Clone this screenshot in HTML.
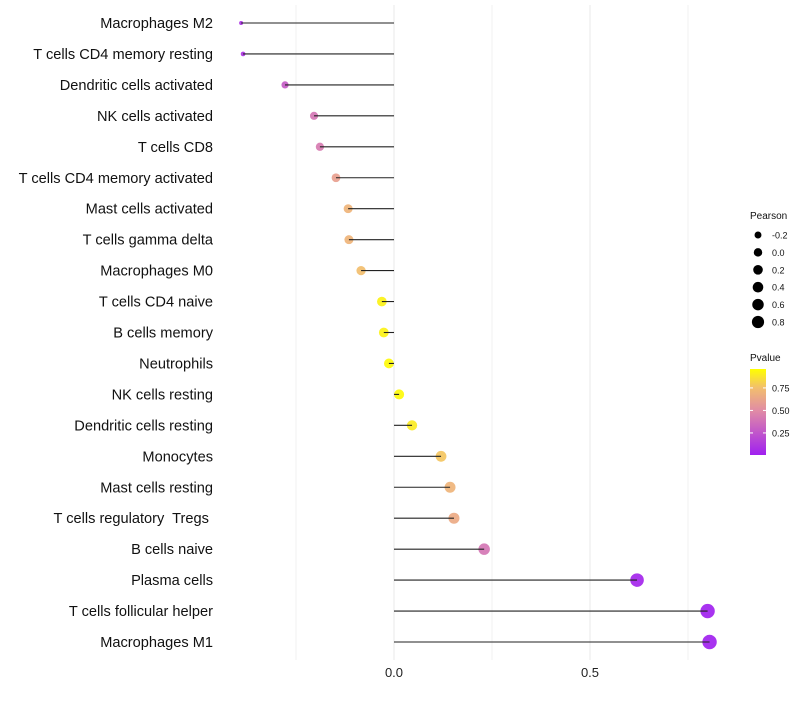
<!DOCTYPE html>
<html><head><meta charset="utf-8"><style>
body{margin:0;background:#fff;font-family:"Liberation Sans",sans-serif}
text{white-space:pre}
</style></head><body>
<svg id="chart" width="800" height="700" xmlns="http://www.w3.org/2000/svg" font-family="Liberation Sans, sans-serif"></svg>
<script>
const categories=["Macrophages M2","T cells CD4 memory resting","Dendritic cells activated","NK cells activated","T cells CD8","T cells CD4 memory activated","Mast cells activated","T cells gamma delta","Macrophages M0","T cells CD4 naive","B cells memory","Neutrophils","NK cells resting","Dendritic cells resting","Monocytes","Mast cells resting","T cells regulatory  Tregs ","B cells naive","Plasma cells","T cells follicular helper","Macrophages M1"];
const pearson=[-0.39,-0.385,-0.278,-0.204,-0.189,-0.148,-0.117,-0.115,-0.084,-0.031,-0.026,-0.013,0.013,0.046,0.12,0.143,0.153,0.23,0.62,0.80,0.805];
const pvalues=[0.08,0.09,0.28,0.4,0.42,0.6,0.7,0.7,0.75,0.95,0.95,0.98,0.98,0.92,0.78,0.7,0.65,0.4,0.03,0.01,0.01];
const xTicks=[0.0,0.5];
const xTickLabels=["0.0","0.5"];
const sizeLegend=[-0.2,0.0,0.2,0.4,0.6,0.8];
const colorLegend=[0.25,0.50,0.75];
const NS="http://www.w3.org/2000/svg";
const svg=document.getElementById('chart');
function el(t,a,p){const e=document.createElementNS(NS,t);for(const k in a)e.setAttribute(k,a[k]);(p||svg).appendChild(e);return e;}
const x=v=>394+v*392;
const y=i=>23+i*30.95;
const rad=v=>2+Math.sqrt(Math.max(0,v+0.39)/1.195)*5.2;
function col(p){const s=[[0,[160,32,240]],[0.5,[225,140,165]],[0.75,[242,190,110]],[1,[255,255,0]]];
for(let i=1;i<s.length;i++){if(p<=s[i][0]){const t=(p-s[i-1][0])/(s[i][0]-s[i-1][0]);const a=s[i-1][1],b=s[i][1];return `rgb(${a.map((c,j)=>Math.round(c+(b[j]-c)*t)).join(',')})`;}}return 'rgb(255,255,0)';}
[-0.25,0.25,0.75].forEach(v=>{const g=el('line',{x1:x(v),x2:x(v),y1:5,y2:660,stroke:'#f0f0f0','stroke-width':1});});
xTicks.forEach((v,i)=>{const g=el('line',{x1:x(v),x2:x(v),y1:5,y2:660,stroke:'#e8e8e8','stroke-width':1});
const t=el('text',{x:x(v),y:677,'text-anchor':'middle','font-size':13,fill:'#222'});t.textContent=xTickLabels[i];});
categories.forEach((c,i)=>{
const t=el('text',{x:213,y:y(i)+5,'text-anchor':'end','font-size':14.6,fill:'#111'});t.textContent=c;


const d=el('circle',{cx:x(pearson[i]),cy:y(i),r:rad(pearson[i]),fill:col(pvalues[i]),'fill-opacity':0.92});


const l=el('line',{x1:x(0),x2:x(pearson[i]),y1:y(i),y2:y(i),stroke:'#222','stroke-width':1.1});


});
let t=el('text',{x:750,y:219,'font-size':10,fill:'#111'});t.textContent='Pearson';
sizeLegend.forEach((v,i)=>{const yy=235+i*17.4;
const c=el('circle',{cx:758,cy:yy,r:rad(v)*0.85,fill:'#000'});
const tt=el('text',{x:772,y:yy+3.5,'font-size':9,fill:'#111'});tt.textContent=v.toFixed(1);});
t=el('text',{x:750,y:361,'font-size':10,fill:'#111'});t.textContent='Pvalue';
const defs=el('defs',{});const lg=el('linearGradient',{id:'pg',x1:0,y1:1,x2:0,y2:0},defs);
[[0,0.005],[0.5,0.5],[0.75,0.75],[1,0.96]].forEach(([o,p])=>el('stop',{offset:(p-0.005)/0.955,'stop-color':col(o)},lg));
const bar=el('rect',{x:750,y:369,width:16,height:86,fill:'url(#pg)'});
colorLegend.forEach(v=>{const yy=455-(v-0.005)/0.955*86;
el('line',{x1:750,x2:753,y1:yy,y2:yy,stroke:'#fff'});el('line',{x1:763,x2:766,y1:yy,y2:yy,stroke:'#fff'});
const tt=el('text',{x:772,y:yy+3.5,'font-size':9,fill:'#111'});tt.textContent=v.toFixed(2);});
</script>
</body></html>
